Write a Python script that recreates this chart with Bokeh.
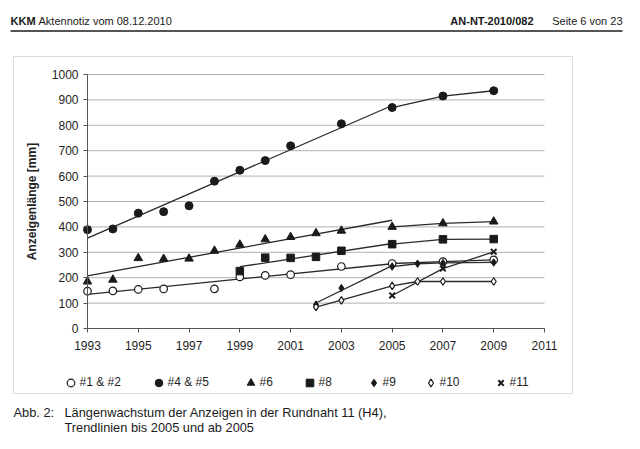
import numpy as np
from bokeh.plotting import figure
from bokeh.models import Range1d, FixedTicker, Label, BoxAnnotation, Legend, LegendItem
from bokeh.embed import file_html
from bokeh.resources import INLINE

# ---- data ----
x_ticks = [1993, 1995, 1997, 1999, 2001, 2003, 2005, 2007, 2009, 2011]
y_ticks = [0, 100, 200, 300, 400, 500, 600, 700, 800, 900, 1000]
break_year = 2005

years_12 = [1993, 1994, 1995, 1996, 1998, 1999, 2000, 2001, 2003, 2005, 2007, 2009]
val_12 = [147, 148, 154, 156, 156, 203, 209, 212, 244, 256, 263, 270]

years_45 = [1993, 1994, 1995, 1996, 1997, 1998, 1999, 2000, 2001, 2003, 2005, 2007, 2009]
val_45 = [389, 392, 454, 460, 483, 580, 623, 661, 719, 806, 870, 915, 936]

years_6 = [1993, 1994, 1995, 1996, 1997, 1998, 1999, 2000, 2001, 2002, 2003, 2005, 2007, 2009]
val_6 = [185, 192, 277, 274, 275, 306, 330, 351, 360, 375, 385, 400, 414, 421]

years_8 = [1999, 2000, 2001, 2002, 2003, 2005, 2007, 2009]
val_8 = [226, 279, 278, 282, 306, 332, 351, 352]

years_9 = [2002, 2003, 2005, 2006, 2007, 2009]
val_9 = [94, 159, 244, 255, 258, 260]

years_10 = [2002, 2003, 2005, 2006, 2007, 2009]
val_10 = [85, 111, 168, 185, 185, 185]

years_11 = [2005, 2007, 2009]
val_11 = [130, 236, 302]

labels = ["#1 & #2", "#4 & #5", "#6", "#8", "#9", "#10", "#11"]

# ---- layout (pixels) ----
W, H = 630, 440
PLOT_L, PLOT_R, PLOT_T, PLOT_B = 87, 544, 74, 328
legend_marker_x = [70, 158, 250, 309, 373, 430, 500]
LEGEND_Y = 382

def sy(page_y):
    return H - page_y

# ---- styles ----
INK = "#1a1a1a"
LINE = "#2a2a2a"
styles = [
    dict(marker="circle", size=7.5, fill_color="white", line_color=INK, line_width=1.2),
    dict(marker="circle", size=8, fill_color=INK, line_color=INK, line_width=1),
    dict(marker="triangle", size=8.5, fill_color=INK, line_color=INK, line_width=1),
    dict(marker="square", size=7.5, fill_color=INK, line_color=INK, line_width=1),
    dict(marker="diamond", size=7.5, fill_color=INK, line_color=INK, line_width=1),
    dict(marker="diamond", size=7.5, fill_color="white", line_color=INK, line_width=1.2),
    dict(marker="x", size=8, fill_color=None, line_color=INK, line_width=2),
]
all_years = [years_12, years_45, years_6, years_8, years_9, years_10, years_11]
all_vals = [val_12, val_45, val_6, val_8, val_9, val_10, val_11]

FONT = "Liberation Sans"

# ranges chosen so that the plot area lands on PLOT_L..PLOT_R / PLOT_T..PLOT_B
px_year = (PLOT_R - PLOT_L) / (x_ticks[-1] - x_ticks[0])
px_mm = (PLOT_B - PLOT_T) / (y_ticks[-1] - y_ticks[0])
x0 = x_ticks[0] - PLOT_L / px_year
x1 = x0 + W / px_year
y1 = y_ticks[-1] + PLOT_T / px_mm
y0 = y1 - H / px_mm

p = figure(width=W, height=H, output_backend="svg", toolbar_location=None,
           x_range=Range1d(x0, x1), y_range=Range1d(y0, y1),
           min_border=0, background_fill_color="white",
           border_fill_color="white")
p.title.visible = False
p.outline_line_color = None
p.xgrid.grid_line_color = None
p.ygrid.grid_line_color = None

# horizontal gridlines across the plot area
p.segment(x0=[x_ticks[0]] * len(y_ticks), x1=[x_ticks[-1]] * len(y_ticks),
          y0=y_ticks, y1=y_ticks, line_color="#b0b0b0", line_width=1)

xa = p.xaxis[0]
ya = p.yaxis[0]
xa.fixed_location = y_ticks[0]
xa.bounds = (x_ticks[0], x_ticks[-1])
ya.fixed_location = x_ticks[0]
ya.bounds = (y_ticks[0], y_ticks[-1])
xa.ticker = FixedTicker(ticks=x_ticks)
ya.ticker = FixedTicker(ticks=y_ticks)
for ax in (xa, ya):
    ax.axis_line_color = "#555555"
    ax.axis_line_width = 1
    ax.major_tick_line_color = "#555555"
    ax.major_tick_out = 4
    ax.major_tick_in = 0
    ax.minor_tick_line_color = None
    ax.major_label_text_font = FONT
    ax.major_label_text_font_size = "12px"
    ax.major_label_text_color = "#1e1e1e"
xa.major_label_standoff = 8
ya.major_label_standoff = 5
ya.axis_label = "Anzeigenlänge [mm]"
ya.axis_label_text_font = FONT
ya.axis_label_text_font_style = "bold"
ya.axis_label_text_font_size = "12px"
ya.axis_label_text_color = "#222222"
ya.axis_label_standoff = 10

# chart border box and header rule
p.add_layout(BoxAnnotation(left=13, right=572, top=sy(56), bottom=sy(393),
                           left_units="screen", right_units="screen",
                           top_units="screen", bottom_units="screen",
                           fill_alpha=0, line_color="#8a8a8a", line_width=1,
                           level="underlay"))
p.add_layout(BoxAnnotation(left=10, right=622, top=sy(29.5), bottom=sy(31.5),
                           left_units="screen", right_units="screen",
                           top_units="screen", bottom_units="screen",
                           fill_color="#555555", fill_alpha=1, line_color=None))

# trend lines: linear fit up to 2005, segments through the points from 2005
for yrs, vals in zip(all_years, all_vals):
    yrs = np.array(yrs, dtype=float)
    vals = np.array(vals, dtype=float)
    pre = yrs <= break_year
    if pre.sum() >= 2 and yrs.min() < break_year:
        c = np.polyfit(yrs[pre], vals[pre], 1)
        xs = np.array([yrs[pre].min(), break_year])
        p.line(xs, np.polyval(c, xs), line_color=LINE, line_width=1.3)
    post = yrs >= break_year
    if post.sum() >= 2:
        p.line(yrs[post], vals[post], line_color=LINE, line_width=1.3)

GW = 19  # legend glyph box -> marker size ~ 0.4 * GW
for lab, yrs, vals, st, mx in zip(labels, all_years, all_vals, styles, legend_marker_x):
    r = p.scatter(yrs, vals, **st)
    lg = Legend(items=[LegendItem(label=lab, renderers=[r])],
                orientation="horizontal",
                location=(mx - GW / 2, sy(LEGEND_Y + GW / 2)),
                glyph_width=GW, glyph_height=GW, label_height=GW,
                label_standoff=-5, padding=0, margin=0, border_line_color=None,
                background_fill_alpha=0, label_text_font=FONT,
                label_text_font_size="12px", label_text_color="#1e1e1e")
    p.add_layout(lg, "center")

def add_text(txt, x, page_y, size="11px", style="normal", align="left"):
    p.add_layout(Label(x=x, y=sy(page_y), x_units="screen", y_units="screen",
                       text=txt, text_font=FONT, text_font_size=size,
                       text_font_style=style, text_color="#1a1a1a",
                       text_align=align, text_baseline="middle"))

add_text("KKM", 10, 20, style="bold")
add_text("Aktennotiz vom 08.12.2010", 38, 20)
add_text("AN-NT-2010/082", 533, 20, style="bold", align="right")
add_text("Seite 6 von 23", 622, 20, align="right")
add_text("Abb. 2:", 13, 412, size="12.8px")
add_text("Längenwachstum der Anzeigen in der Rundnaht 11 (H4),", 64, 412, size="12.8px")
add_text("Trendlinien bis 2005 und ab 2005", 64, 427, size="12.8px")

open("out.html", "w").write(file_html(p, INLINE))
